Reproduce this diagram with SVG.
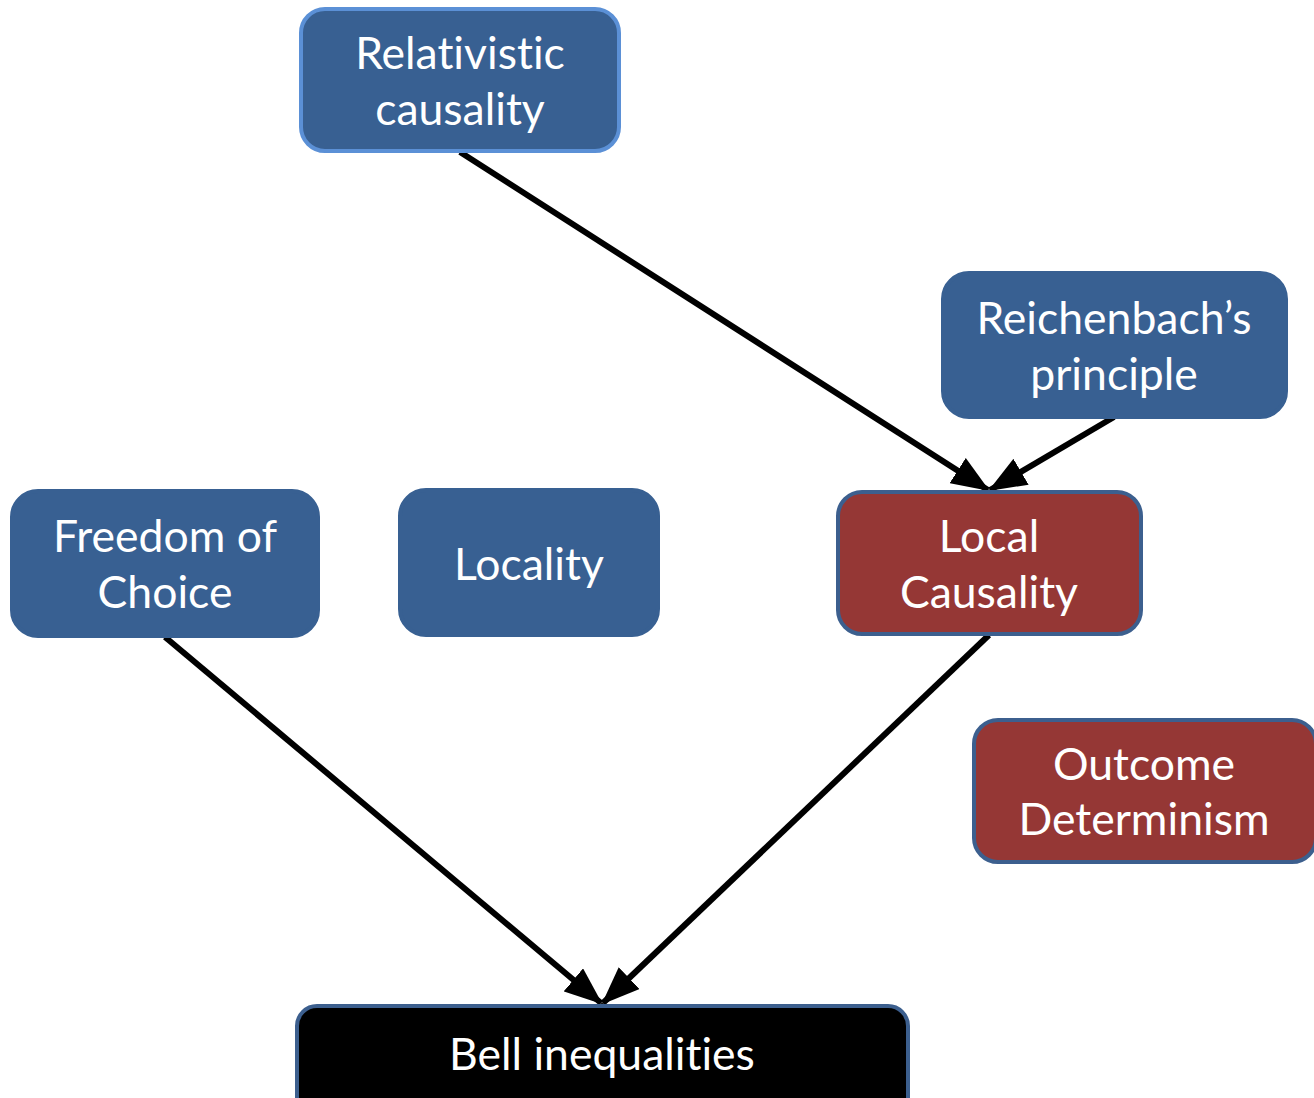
<svg xmlns="http://www.w3.org/2000/svg" width="1314" height="1098" viewBox="0 0 1314 1098">
  <defs>
    <style>
      .box { stroke-width: 4; }
      .blue { fill: #386092; stroke: #386092; }
      .blue-lit { fill: #386092; stroke: #5B90D6; }
      .red { fill: #953735; stroke: #3C5F8E; }
      .black { fill: #000000; stroke: #3C5F8E; }
      .label { font-family: Lato, "Open Sans", "Liberation Sans", sans-serif; font-size: 44.5px; fill: #FFFFFF; text-anchor: middle; font-variant-ligatures: none; font-feature-settings: "liga" 0, "clig" 0; }
      .edge { stroke: #000000; stroke-width: 6; fill: none; marker-end: url(#head); }
    </style>
    <marker id="head" viewBox="0 0 38 30" refX="36" refY="15" markerWidth="38" markerHeight="30" markerUnits="userSpaceOnUse" orient="auto">
      <path d="M0,0 L38,15 L0,30 Z" fill="#000000"/>
    </marker>
  </defs>

  <rect width="1314" height="1098" fill="#FFFFFF"/>

  <!-- connectors -->
  <g id="connectors">
    <line class="edge" x1="460" y1="152" x2="988" y2="490"/>
    <line class="edge" x1="1114" y1="417" x2="990" y2="490"/>
    <line class="edge" x1="165" y1="637" x2="601" y2="1003"/>
    <line class="edge" x1="989" y1="635" x2="603" y2="1003"/>
  </g>

  <!-- nodes -->
  <g id="relativistic-causality">
    <rect class="box blue-lit" x="301" y="9" width="318" height="142" rx="24"/>
    <text class="label" x="460" y="69">Relativistic</text>
    <text class="label" x="460" y="125">causality</text>
  </g>

  <g id="reichenbach-principle">
    <rect class="box blue" x="943" y="273" width="343" height="144" rx="26"/>
    <text class="label" x="1114" y="334">Reichenbach’s</text>
    <text class="label" x="1114" y="390">principle</text>
  </g>

  <g id="freedom-of-choice">
    <rect class="box blue" x="12" y="491" width="306" height="145" rx="26"/>
    <text class="label" x="165" y="552">Freedom of</text>
    <text class="label" x="165" y="608">Choice</text>
  </g>

  <g id="locality">
    <rect class="box blue" x="400" y="490" width="258" height="145" rx="26"/>
    <text class="label" x="529" y="580">Locality</text>
  </g>

  <g id="local-causality">
    <rect class="box red" x="838" y="492" width="303" height="142" rx="24"/>
    <text class="label" x="989" y="552">Local</text>
    <text class="label" x="989" y="608">Causality</text>
  </g>

  <g id="outcome-determinism">
    <rect class="box red" x="974" y="720" width="342" height="142" rx="24"/>
    <text class="label" x="1144" y="780">Outcome</text>
    <text class="label" x="1144" y="835">Determinism</text>
  </g>

  <g id="bell-inequalities">
    <rect class="box black" x="297" y="1006" width="611" height="120" rx="20"/>
    <text class="label" x="602" y="1070">Bell inequalities</text>
  </g>
</svg>
